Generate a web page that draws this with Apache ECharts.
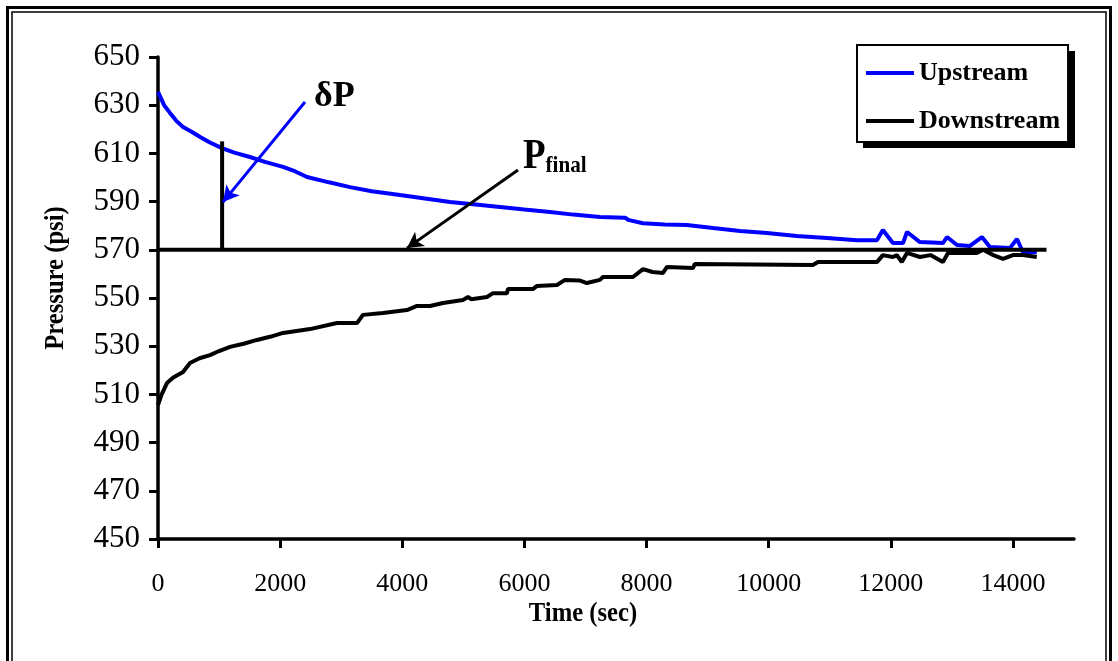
<!DOCTYPE html>
<html>
<head>
<meta charset="utf-8">
<script src="https://cdn.jsdelivr.net/npm/echarts@6/dist/echarts.min.js"></script>
<style>
  html, body { margin: 0; padding: 0; background: #fff; }
  #chart { width: 1118px; height: 661px; }
</style>
</head>
<body>
<div id="chart"></div>
<script>
// Pressure readings, [time (sec), pressure (psi)]
const upstream = [
  [0,635.5],[100,630],[196,626.8],[300,623.5],[410,621],[550,619],[690,616.8],[850,614.5],
  [1048,612.2],[1250,610.3],[1506,608.5],[1750,606.5],[2047,604.4],[2250,602.5],[2440,600.2],
  [2800,598],[3144,596],[3500,594.3],[3963,592.7],[4400,591.2],[4781,589.8],[5200,588.8],
  [5600,587.8],[6000,586.7],[6419,585.7],[6800,584.6],[7237,583.6],[7650,583.3],[7700,582.4],
  [7940,581],[8300,580.5],[8660,580.3],[9090,579],[9530,577.8],[9970,577],[10460,575.7],
  [10955,574.9],[11445,574],[11773,574],[11870,578.2],[12035,572.8],[12200,572.8],[12265,577.4],
  [12477,573.2],[12854,572.8],[12920,575.3],[13084,572],[13296,571.6],[13492,575.3],[13623,571.2],
  [13950,570.7],[14066,574.5],[14165,569],[14390,569]
];
const downstream = [
  [0,505.6],[60,510],[147,514.7],[250,517],[410,519.3],[524,523],[680,525],[851,526.3],
  [1000,528],[1179,529.7],[1400,531],[1621,532.6],[1850,534],[2047,535.5],[2489,537.1],
  [2931,539.6],[3258,539.6],[3356,543],[3684,543.8],[4077,545],[4241,546.7],[4454,546.7],
  [4667,547.9],[4994,549.2],[5076,550.4],[5130,549.5],[5387,550.4],[5486,552],[5715,552],
  [5731,553.7],[6140,553.7],[6206,555],[6533,555.4],[6664,557.5],[6900,557.3],[7024,556.2],
  [7237,557.5],[7286,558.7],[7565,558.7],[7778,558.7],[7942,562],[8100,560.8],[8270,560.4],
  [8335,562.9],[8760,562.4],[8790,564.1],[10725,563.7],[10807,564.9],[11773,564.9],[11870,567.8],
  [12035,567],[12100,567.8],[12180,564.9],[12265,568.7],[12477,567],[12650,567.8],[12854,564.9],
  [12936,568.7],[13410,568.7],[13510,570],[13680,567.8],[13837,566.2],[14000,567.8],[14165,567.8],
  [14390,567]
];
// Final equilibrium pressure line and the initial pressure difference marker
const pFinalLine = [[0,570],[14550,570]];
const deltaPLine = [[1050,570],[1050,615]];
// Annotation arrows, [start, head] in data units
const deltaPArrow = [[2407,631.3],[1064,589.8]];
const pFinalArrow = [[5895,603.1],[4077,570.7]];
// Axis ticks
const xTicks = [0,2000,4000,6000,8000,10000,12000,14000];
const yTicks = [450,470,490,510,530,550,570,590,610,630,650];

const SERIF = "'Liberation Serif', 'Times New Roman', serif";
const chart = echarts.init(document.getElementById('chart'), null, { renderer: 'canvas' });

chart.setOption({
  animation: false,
  backgroundColor: '#ffffff',
  grid: { left: 158, right: 44, top: 57, bottom: 122 },
  xAxis: {
    type: 'value', min: 0, max: 15000, interval: 2000,
    axisLine: { lineStyle: { color: '#000', width: 3.5 } },
    axisTick: { show: true, length: 9, lineStyle: { color: '#000', width: 3 }, customValues: xTicks },
    axisLabel: { color: '#000', fontFamily: SERIF, fontSize: 26, margin: 32, customValues: xTicks,
                 formatter: (v) => String(v) },
    splitLine: { show: false }
  },
  yAxis: {
    type: 'value', min: 450, max: 650, interval: 20,
    axisLine: { show: true, lineStyle: { color: '#000', width: 3.5 } },
    axisTick: { show: true, length: 9, lineStyle: { color: '#000', width: 3 }, customValues: yTicks },
    axisLabel: { color: '#000', fontFamily: SERIF, fontSize: 31, margin: 18, customValues: yTicks,
                 formatter: (v) => String(v) },
    splitLine: { show: false }
  },
  legend: {
    data: ['Upstream', 'Downstream'],
    orient: 'vertical',
    left: 857, top: 45,
    padding: [14, 8, 7, 9],
    icon: 'rect',
    itemWidth: 48, itemHeight: 4, itemGap: 20,
    backgroundColor: '#fff',
    borderColor: '#000', borderWidth: 2,
    z: 10,
    textStyle: { color: '#000', fontFamily: SERIF, fontWeight: 'bold', fontSize: 26, lineHeight: 28 }
  },
  series: [
    {
      name: 'Upstream', type: 'line', data: upstream, symbol: 'none',
      lineStyle: { color: '#0000ff', width: 4 }, itemStyle: { color: '#0000ff' }, z: 3
    },
    {
      name: 'Downstream', type: 'line', data: downstream, symbol: 'none',
      lineStyle: { color: '#000', width: 4 }, itemStyle: { color: '#000' }, z: 3
    },
    {
      name: 'Pfinal', type: 'line', data: pFinalLine, symbol: 'none',
      lineStyle: { color: '#000', width: 4 }, z: 4,
      markLine: {
        silent: true, symbol: ['none', 'arrow'], symbolSize: [13, 16],
        label: { show: false },
        data: [
          [{ coord: deltaPArrow[0], lineStyle: { color: '#0000ff', width: 3, type: 'solid' } },
           { coord: deltaPArrow[1] }],
          [{ coord: pFinalArrow[0], lineStyle: { color: '#000', width: 3, type: 'solid' } },
           { coord: pFinalArrow[1] }]
        ]
      }
    },
    {
      name: 'deltaP', type: 'line', data: deltaPLine, symbol: 'none',
      lineStyle: { color: '#000', width: 4 }, z: 4
    }
  ],
  graphic: [
    // double frame
    { type: 'rect', shape: { x: 7.5, y: 7.5, width: 1103, height: 700 }, style: { fill: 'none', stroke: '#000', lineWidth: 3 }, silent: true },
    { type: 'rect', shape: { x: 12, y: 12, width: 1094, height: 700 }, style: { fill: 'none', stroke: '#000', lineWidth: 1.5 }, silent: true },
    // legend drop shadow
    { type: 'rect', z: 5, shape: { x: 863, y: 51, width: 212, height: 97 }, style: { fill: '#000' }, silent: true },
    // axis titles
    { type: 'text', x: 583, y: 614, scaleX: 0.88,
      style: { text: 'Time (sec)', font: "bold 28px 'Liberation Serif', serif", fill: '#000', align: 'center', verticalAlign: 'middle' } },
    { type: 'text', x: 56, y: 278, rotation: Math.PI / 2, scaleX: 0.88,
      style: { text: 'Pressure (psi)', font: "bold 28px 'Liberation Serif', serif", fill: '#000', align: 'center', verticalAlign: 'middle' } },
    // annotation labels
    { type: 'text', x: 314, y: 97,
      style: { text: 'δP', font: "bold 36px 'Liberation Serif', serif", fill: '#000', align: 'left', verticalAlign: 'middle' } },
    { type: 'text', x: 523, y: 157, scaleX: 0.88,
      style: {
        text: '{p|P}{s|final}', align: 'left', verticalAlign: 'middle',
        rich: {
          p: { font: "bold 42px 'Liberation Serif', serif", fill: '#000', verticalAlign: 'bottom' },
          s: { font: "bold 24px 'Liberation Serif', serif", fill: '#000', verticalAlign: 'bottom' }
        }
      } }
  ]
});
</script>
</body>
</html>
